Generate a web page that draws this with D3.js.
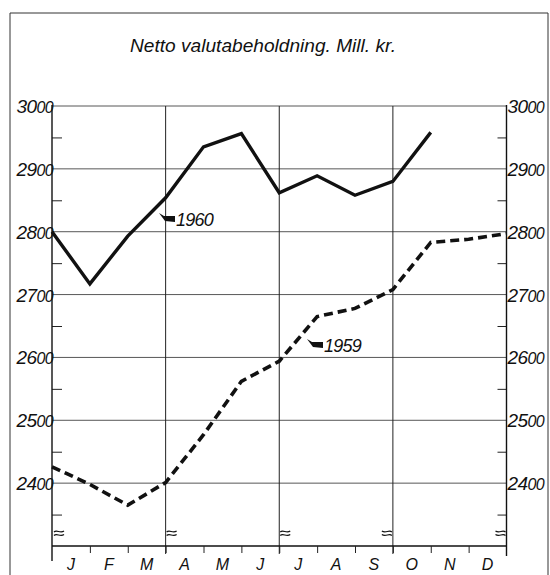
<!DOCTYPE html>
<html>
<head>
<meta charset="utf-8">
<script src="https://cdn.jsdelivr.net/npm/d3@7"></script>
<style>
  html, body { margin: 0; padding: 0; background: #fff; }
  svg { display: block; }
  text { font-family: "Liberation Sans", Arial, sans-serif; font-style: italic; fill: #111; }
</style>
</head>
<body>
<svg id="chart" width="550" height="575"></svg>
<script>
const months = ["J","F","M","A","M","J","J","A","S","O","N","D"];
// values at month boundaries (index 0 = start of January)
const values1960 = [2800, 2717, 2793, 2854, 2935, 2956, 2862, 2889, 2858, 2880, 2958];
const values1959 = [2426, 2398, 2365, 2401, 2477, 2562, 2594, 2665, 2678, 2708, 2783, 2788, 2797];
const yTicks = [2400, 2500, 2600, 2700, 2800, 2900, 3000];
const yMinorTicks = [2350, 2450, 2550, 2650, 2750, 2850, 2950];
const quarterBoundaries = [3, 6, 9];
const titleText = "Netto valutabeholdning. Mill. kr.";

const svg = d3.select("#chart");
const x = d3.scaleLinear().domain([0, 12]).range([52, 506.5]);
const y = d3.scaleLinear().domain([2300, 3000]).range([546, 106]);

// outer frame
const frame = svg.append("g").attr("stroke", "#333").attr("stroke-width", 1).attr("fill", "none");
frame.append("line").attr("x1", 10).attr("x2", 548).attr("y1", 13).attr("y2", 13);
frame.append("line").attr("x1", 10).attr("x2", 10).attr("y1", 13).attr("y2", 575);
frame.append("line").attr("x1", 548).attr("x2", 548).attr("y1", 13).attr("y2", 575);

// title
svg.append("text").attr("x", 130).attr("y", 52)
  .attr("font-size", 18).attr("textLength", 266).attr("lengthAdjust", "spacingAndGlyphs")
  .text(titleText);

// horizontal gridlines
svg.append("g").selectAll("line").data(yTicks).join("line")
  .attr("x1", x(0)).attr("x2", x(12))
  .attr("y1", d => y(d)).attr("y2", d => y(d))
  .attr("stroke", "#444").attr("stroke-width", 0.9);

// vertical quarter gridlines
svg.append("g").selectAll("line").data(quarterBoundaries).join("line")
  .attr("x1", d => x(d)).attr("x2", d => x(d))
  .attr("y1", y(3000)).attr("y2", y(2300) + 8)
  .attr("stroke", "#222").attr("stroke-width", 1);

// axes (left and right) with minor ticks
const leftAxis = d3.axisRight(y).tickValues(yMinorTicks).tickSize(10).tickFormat("");
const gL = svg.append("g").attr("transform", `translate(${x(0)},0)`).call(leftAxis);
gL.select(".domain").remove();
gL.selectAll("line").attr("stroke", "#222").attr("stroke-width", 1);
svg.append("line").attr("x1", x(0)).attr("x2", x(0)).attr("y1", y(3000) - 1).attr("y2", 561)
  .attr("stroke", "#111").attr("stroke-width", 1.4);

const rightAxis = d3.axisLeft(y).tickValues(yMinorTicks).tickSize(9).tickFormat("");
const gR = svg.append("g").attr("transform", `translate(${x(12)},0)`).call(rightAxis);
gR.select(".domain").remove();
gR.selectAll("line").attr("stroke", "#222").attr("stroke-width", 1);
svg.append("line").attr("x1", x(12)).attr("x2", x(12)).attr("y1", y(3000) - 1).attr("y2", 556)
  .attr("stroke", "#111").attr("stroke-width", 1.4);

// bottom axis line and month ticks
svg.append("line").attr("x1", x(0)).attr("x2", x(12)).attr("y1", y(2300)).attr("y2", y(2300))
  .attr("stroke", "#111").attr("stroke-width", 1.4);
const bottomAxis = d3.axisBottom(x).tickValues(d3.range(1, 12)).tickSize(7).tickFormat("");
const gB = svg.append("g").attr("transform", `translate(0,${y(2300)})`).call(bottomAxis);
gB.select(".domain").remove();
gB.selectAll("line").attr("stroke", "#222").attr("stroke-width", 1);

// month labels
svg.append("g").selectAll("text").data(months).join("text")
  .attr("x", (d, i) => x(i + 0.5)).attr("y", 570)
  .attr("text-anchor", "middle").attr("font-size", 16)
  .text(d => d);

// y labels (hand-lettered style: smaller trailing zeros)
function yLabel(g, anchor, xpos) {
  g.selectAll("text").data(yTicks).join("text")
    .attr("x", xpos).attr("y", d => y(d) + 7)
    .attr("text-anchor", anchor).attr("font-size", 19).attr("letter-spacing", -0.6)
    .each(function(d) {
      const s = String(d);
      const t = d3.select(this);
      t.append("tspan").text(s.slice(0, 2));
      t.append("tspan").attr("font-size", 16).text(s.slice(2));
    });
}
yLabel(svg.append("g"), "end", x(0) + 1);
yLabel(svg.append("g"), "start", x(12) + 1);

// break marks
function breakMark(cx, cy, flip) {
  const s = flip ? -1 : 1;
  const p = d3.path();
  for (let k = 0; k < 2; k++) {
    const yy = cy + k * 3.5;
    p.moveTo(cx, yy);
    p.bezierCurveTo(cx + s * 3, yy - 3, cx + s * 6, yy + 2, cx + s * 10, yy - 1);
  }
  svg.append("path").attr("d", p.toString()).attr("fill", "none")
    .attr("stroke", "#111").attr("stroke-width", 1.2);
}
breakMark(x(0) + 2, 532, false);
breakMark(x(3) + 1, 532, false);
breakMark(x(6) + 1, 532, false);
breakMark(x(9) - 1, 532, true);
breakMark(x(12) - 1, 532, true);

// lines
const line = d3.line().x((d, i) => x(i)).y(d => y(d));
svg.append("path").datum(values1960).attr("d", line)
  .attr("fill", "none").attr("stroke", "#111").attr("stroke-width", 3.4)
  .attr("stroke-linejoin", "miter");
svg.append("path").datum(values1959).attr("d", line)
  .attr("fill", "none").attr("stroke", "#111").attr("stroke-width", 3.6)
  .attr("stroke-dasharray", "9,5");

// series labels with small flag arrows
function seriesLabel(ax, ay, txt) {
  const p = d3.path();
  p.moveTo(ax, ay - 4);
  p.lineTo(ax + 5, ay - 1);
  p.lineTo(ax + 16, ay - 1);
  p.lineTo(ax + 16, ay + 5);
  p.lineTo(ax + 6, ay + 4);
  p.closePath();
  svg.append("path").attr("d", p.toString()).attr("fill", "#111");
  svg.append("text").attr("x", ax + 17).attr("y", ay + 9)
    .attr("font-size", 18).attr("letter-spacing", -0.8).text(txt);
}
seriesLabel(159, 217, "1960");
seriesLabel(307, 343, "1959");
</script>
</body>
</html>
